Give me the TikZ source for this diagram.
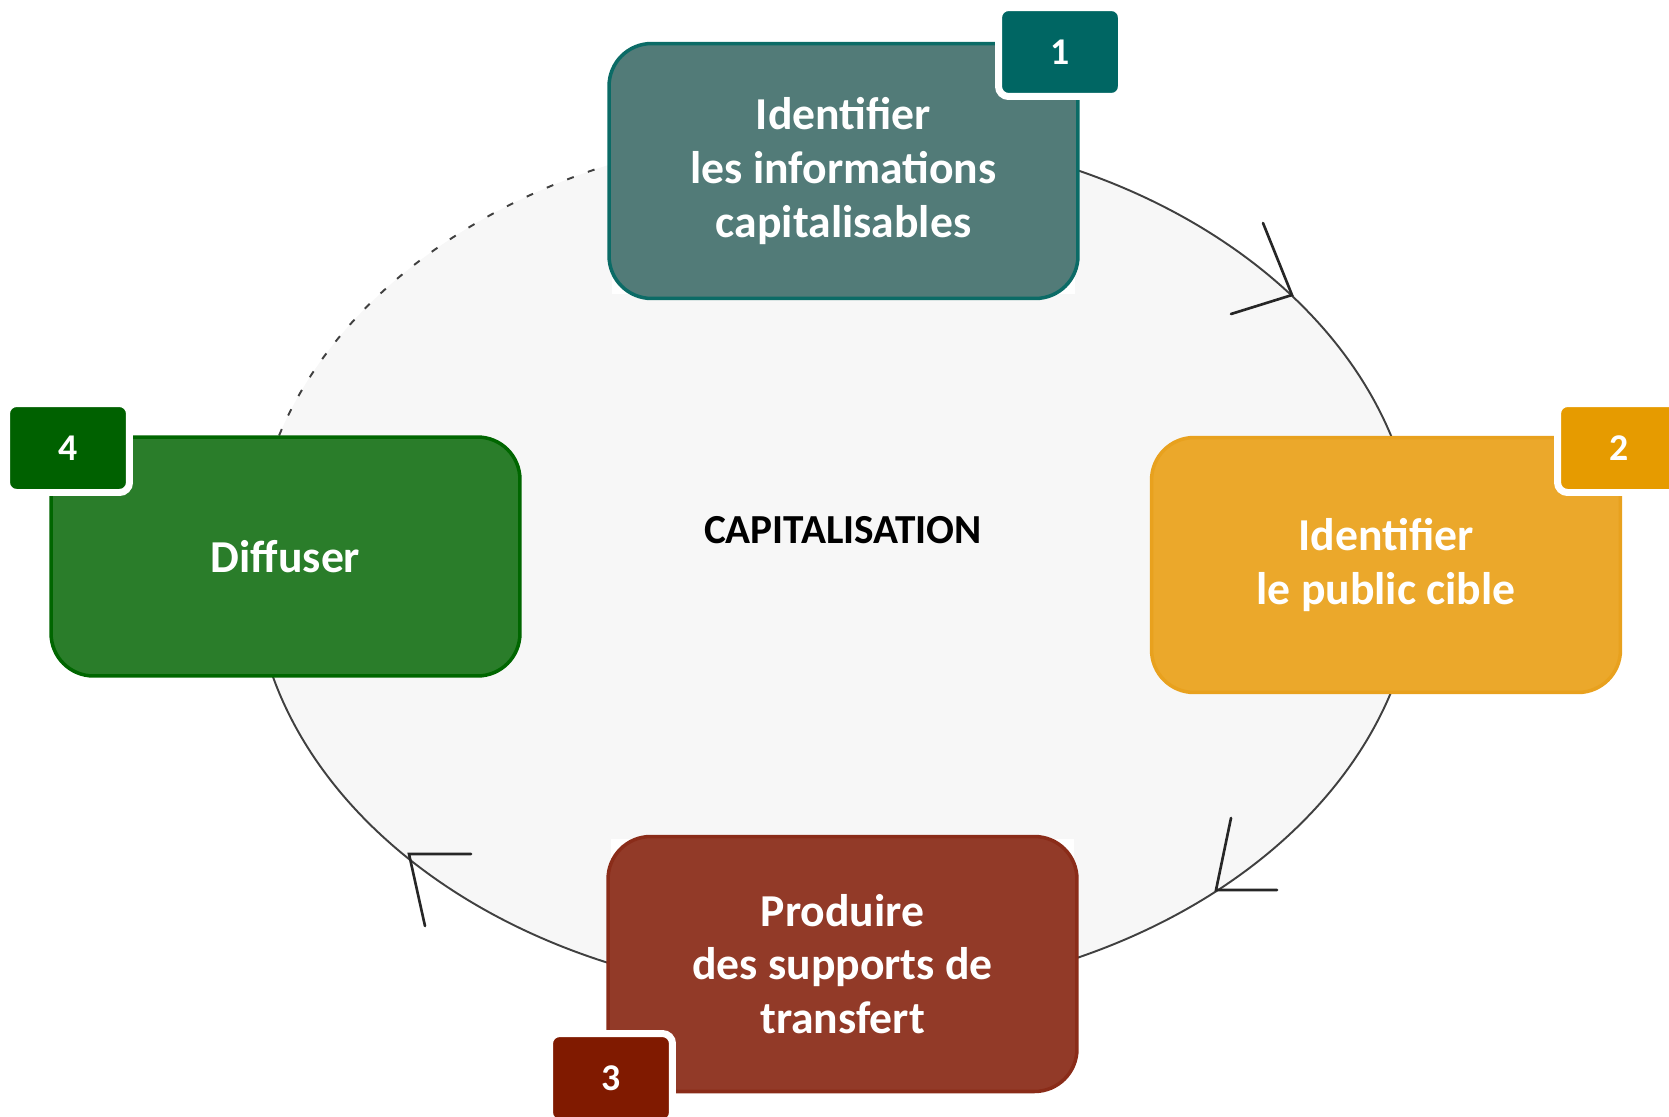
\documentclass[tikz,border=0pt]{standalone}
\usepackage{fontspec}
\setmainfont{Carlito}
\definecolor{tealbox}{HTML}{527B78}
\definecolor{tealline}{HTML}{0B6B66}
\definecolor{tealnum}{HTML}{006663}
\definecolor{orangebox}{HTML}{EBA82B}
\definecolor{orangeline}{HTML}{E8A11E}
\definecolor{orangenum}{HTML}{E69B00}
\definecolor{redbox}{HTML}{923A28}
\definecolor{redline}{HTML}{8A2C19}
\definecolor{rednum}{HTML}{801A00}
\definecolor{greenbox}{HTML}{2A7D2A}
\definecolor{greenline}{HTML}{006600}
\definecolor{greennum}{HTML}{006100}
\definecolor{ringfill}{HTML}{F7F7F7}
\definecolor{ringline}{HTML}{404040}
\begin{document}
\begin{tikzpicture}[x=0.02cm,y=-0.02cm]
 \tikzstyle{every node}=[font=\bfseries\fontsize{26}{30.5}\selectfont,text=white,align=center];
    \tikzstyle{stage}=[draw,rounded corners=0.85cm,line width=2pt,minimum width=9.38cm,minimum height=5.1cm,inner sep=0pt];
    \tikzstyle{badge}=[draw=white,rounded corners=0.2cm,line width=0.14cm,minimum width=2.46cm,minimum height=1.78cm,inner sep=0pt,font=\bfseries\fontsize{21.5}{24}\selectfont];
    \tikzstyle{cycle}=[draw=ringline,line width=1.1pt];
    \tikzstyle{chevron}=[draw=black!85,line width=1.5pt,line cap=round];
    \useasboundingbox (0,0) rectangle (1669,1116);
    \fill[ringfill] (835,564) ellipse [x radius=582, y radius=433];
    \draw[cycle] (835,131) arc [start angle=270, end angle=540, x radius=582, y radius=433];
    \draw[cycle,dash pattern=on 0.14cm off 0.3cm] (253,564) arc [start angle=180, end angle=270, x radius=582, y radius=433];
    \coordinate (tip12) at (1292,295);
    \coordinate (tip23) at (1216,890);
    \coordinate (tip34) at (409,854);
    \draw[chevron] (tip12) ++(-29,-72) -- (tip12) -- ++(-61,19);
    \draw[chevron] (tip23) ++(15,-72) -- (tip23) -- ++(61,0);
    \draw[chevron] (tip34) ++(62,0) -- (tip34) -- ++(16,72);
    \fill[white] (612,45) rectangle (1075,294);
    \fill[white] (611,839) rectangle (1074,1089);
    \node at (843.5, 171) (ident) [stage,fill=tealbox,draw=tealline] {Identifier\\les informations\\capitalisables};
    \node at (1386, 565) (public) [stage,fill=orangebox,draw=orangeline] {Identifier\\le public cible};
    \node at (842.5, 964) (produire) [stage,fill=redbox,draw=redline] {Produire\\des supports de\\transfert};
    \node at (285.5, 556.5) (diffuser) [stage,fill=greenbox,draw=greenline,minimum height=4.78cm] {Diffuser};
    \node at (1060, 52) (num1) [badge,fill=tealnum] {1};
    \node at (1619, 448) (num2) [badge,fill=orangenum] {2};
    \node at (611, 1078) (num3) [badge,fill=rednum] {3};
    \node at (68, 448) (num4) [badge,fill=greennum] {4};
    \node at (843, 530) (capi) [text=black,font=\bfseries\fontsize{23.5}{26}\selectfont] {CAPITALISATION};
\end{tikzpicture}
\end{document}
